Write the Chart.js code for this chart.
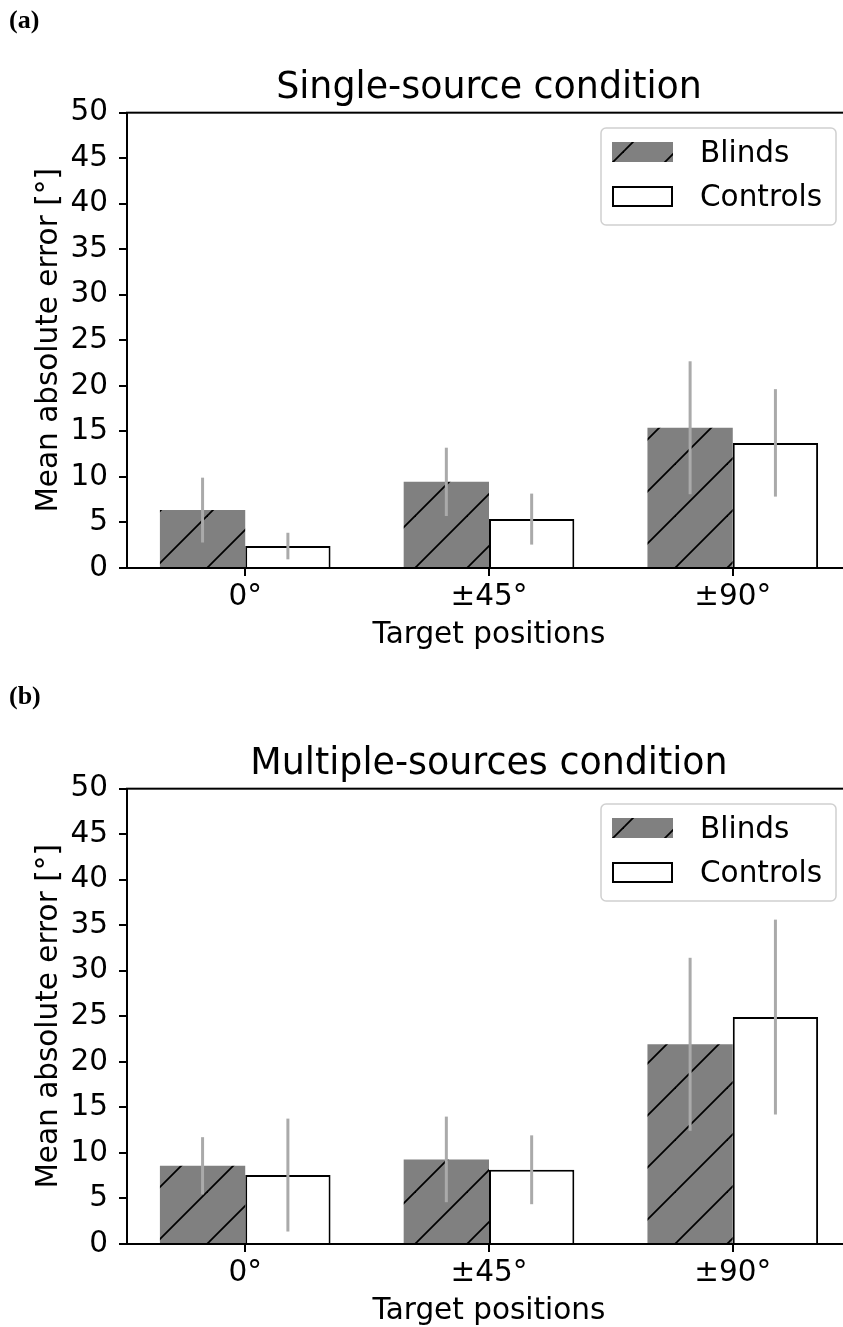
<!DOCTYPE html>
<html>
<head>
<meta charset="utf-8">
<script src="https://cdn.jsdelivr.net/npm/chart.js@4.4.1/dist/chart.umd.min.js"></script>
<style>
  body { margin: 0; background: #fff; }
  #page { position: relative; width: 843px; height: 1327px; overflow: hidden; background: #fff; }
  .panel { position: absolute; left: 0; width: 843px; overflow: hidden; }
  .tag { position: absolute; left: 9px; top: 7px; font: bold 26px "Liberation Serif", serif; line-height: 26px; color: #000; }
</style>
</head>
<body>
<div id="page">
  <div class="panel" style="top:0; height:676px;">
    <canvas id="chartA" width="860" height="676"></canvas>
    <div class="tag">(a)</div>
  </div>
  <div class="panel" style="top:676px; height:651px;">
    <canvas id="chartB" width="860" height="676"></canvas>
    <div class="tag">(b)</div>
  </div>
</div>
<script>
const categories = ['0°', '±45°', '±90°'];
const yTicks = [0, 5, 10, 15, 20, 25, 30, 35, 40, 45, 50];
const seriesNames = ['Blinds', 'Controls'];

// single-source condition
const blindsSingle = [6.36, 9.46, 15.4];
const blindsSingleErr = [3.56, 3.75, 7.3];
const controlsSingle = [2.41, 5.37, 13.74];
const controlsSingleErr = [1.46, 2.8, 5.9];

// multiple-sources condition
const blindsMulti = [8.59, 9.29, 21.93];
const blindsMultiErr = [3.14, 4.7, 9.5];
const controlsMulti = [7.57, 8.15, 24.92];
const controlsMultiErr = [6.2, 3.78, 10.7];

const family = "'DejaVu Sans', sans-serif";

// gray fill with '/' hatch, tile matches the stripe spacing
function hatch(ctx) {
  const t = document.createElement('canvas');
  t.width = 52; t.height = 52;
  const c = t.getContext('2d');
  c.fillStyle = '#808080';
  c.fillRect(0, 0, 52, 52);
  c.strokeStyle = '#000';
  c.lineWidth = 1.8;
  [47, 99].forEach(k => {
    c.beginPath();
    c.moveTo(k + 10, -10);
    c.lineTo(-10, k + 10);
    c.stroke();
  });
  return ctx.createPattern(t, 'repeat');
}

const errorBars = {
  id: 'errorBars',
  afterDatasetsDraw(chart) {
    const ctx = chart.ctx, y = chart.scales.y;
    ctx.save();
    ctx.strokeStyle = '#aaaaaa';
    ctx.lineWidth = 3;
    chart.data.datasets.forEach((ds, di) => {
      chart.getDatasetMeta(di).data.forEach((bar, i) => {
        const v = ds.data[i].y, e = ds.errors[i];
        ctx.beginPath();
        ctx.moveTo(bar.x, y.getPixelForValue(v - e));
        ctx.lineTo(bar.x, y.getPixelForValue(v + e));
        ctx.stroke();
      });
    });
    ctx.restore();
  }
};

const frame = {
  id: 'frame',
  afterDraw(chart) {
    const { ctx, chartArea: a } = chart;
    ctx.save();
    ctx.strokeStyle = '#000';
    ctx.lineWidth = 2;
    ctx.strokeRect(a.left, a.top, a.right - a.left, a.bottom - a.top);
    ctx.restore();
  }
};

const boxLegend = {
  id: 'boxLegend',
  afterDraw(chart) {
    const ctx = chart.ctx;
    const ds = chart.data.datasets;
    ctx.save();
    ctx.beginPath();
    ctx.roundRect(601, 128, 235, 97, 5);
    ctx.fillStyle = 'rgba(255,255,255,0.8)';
    ctx.fill();
    ctx.strokeStyle = '#d0d0d0';
    ctx.lineWidth = 1.5;
    ctx.stroke();

    ctx.fillStyle = ds[0].backgroundColor;
    ctx.fillRect(612, 142, 61, 20);

    ctx.fillStyle = '#fff';
    ctx.fillRect(613, 187, 59, 19);
    ctx.strokeStyle = '#000';
    ctx.lineWidth = 2;
    ctx.strokeRect(613, 187, 59, 19);

    ctx.fillStyle = '#000';
    ctx.font = "29.5px " + family;
    ctx.textBaseline = 'middle';
    ctx.fillText(ds[0].label, 700, 154);
    ctx.fillText(ds[1].label, 700, 198);
    ctx.restore();
  }
};

function makeChart(id, title, blinds, blindsErr, controls, controlsErr) {
  const ctx = document.getElementById(id).getContext('2d');
  const toPoints = vals => vals.map((v, i) => ({ x: i, y: v }));
  const tickFont = { family: family, size: 29.5 };
  return new Chart(ctx, {
    type: 'bar',
    data: {
      datasets: [{
        label: seriesNames[0],
        data: toPoints(blinds),
        errors: blindsErr,
        backgroundColor: hatch(ctx),
        borderWidth: 0
      }, {
        label: seriesNames[1],
        data: toPoints(controls),
        errors: controlsErr,
        backgroundColor: '#ffffff',
        borderColor: '#000000',
        borderWidth: 2
      }]
    },
    options: {
      responsive: false,
      devicePixelRatio: 1,
      animation: false,
      categoryPercentage: 0.7,
      barPercentage: 1.0,
      layout: { padding: { left: 0, right: 9, top: 0, bottom: 0 } },
      plugins: {
        legend: { display: false },
        tooltip: { enabled: false },
        title: {
          display: true,
          text: title,
          fullSize: false,
          color: '#000',
          font: { family: family, size: 36.4, weight: 'normal' },
          padding: { top: 67, bottom: 2 }
        }
      },
      scales: {
        x: {
          type: 'linear',
          min: -0.485,
          max: 2.485,
          offset: false,
          afterBuildTicks: s => { s.ticks = categories.map((c, i) => ({ value: i })); },
          afterFit: s => { s.height = 108; },
          ticks: {
            callback: v => categories[v],
            color: '#000',
            font: tickFont,
            padding: 4,
            maxRotation: 0,
            autoSkip: false
          },
          grid: { offset: false, drawOnChartArea: false, tickLength: 8, color: '#000', lineWidth: 2 },
          border: { display: false },
          title: {
            display: true,
            text: 'Target positions',
            color: '#000',
            font: tickFont,
            padding: { top: 0, bottom: 23 }
          }
        },
        y: {
          min: 0,
          max: 50,
          afterBuildTicks: s => { s.ticks = yTicks.map(v => ({ value: v })); },
          afterFit: s => { s.width = 127; },
          ticks: { color: '#000', font: tickFont, padding: 11 },
          grid: { drawOnChartArea: false, tickLength: 8, color: '#000', lineWidth: 2 },
          border: { display: false },
          title: {
            display: true,
            text: 'Mean absolute error [°]',
            color: '#000',
            font: tickFont,
            padding: { top: 32, bottom: 0 }
          }
        }
      }
    },
    plugins: [errorBars, frame, boxLegend]
  });
}

makeChart('chartA', 'Single-source condition',
  blindsSingle, blindsSingleErr, controlsSingle, controlsSingleErr);
makeChart('chartB', 'Multiple-sources condition',
  blindsMulti, blindsMultiErr, controlsMulti, controlsMultiErr);
</script>
</body>
</html>
